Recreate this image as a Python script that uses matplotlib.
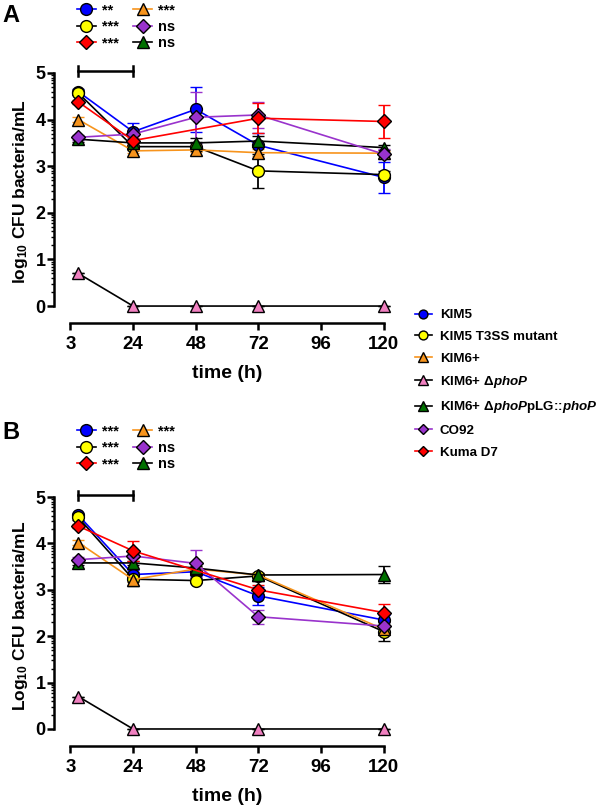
import matplotlib
matplotlib.use("Agg")
import matplotlib.pyplot as plt
import numpy as np

plt.rcParams['font.family'] = ['Liberation Sans', 'DejaVu Sans']
plt.rcParams['font.weight'] = 'bold'
plt.rcParams['axes.labelweight'] = 'bold'
plt.rcParams['mathtext.fontset'] = 'custom'
plt.rcParams['mathtext.rm'] = 'Liberation Sans:bold'
plt.rcParams['mathtext.it'] = 'Liberation Sans:italic:bold'
plt.rcParams['mathtext.bf'] = 'Liberation Sans:bold'

hours = [3, 24, 48, 72, 120]
tick_pos = [0, 24, 48, 72, 96, 120]
tick_labels = ["3", "24", "48", "72", "96", "120"]

strains = ["KIM5", "KIM5 T3SS mutant", "KIM6+", "KIM6+ Δ$\\it{phoP}$",
           "KIM6+ Δ$\\it{phoP}$pLG::$\\it{phoP}$", "CO92", "Kuma D7"]

nan = np.nan

# panel A: mean log10 CFU and error
a_kim5 = [4.60, 3.74, 4.22, 3.45, 2.76]
a_kim5_err = [0.05, 0.18, 0.48, 0.27, 0.33]
a_t3ss = [4.57, 3.42, 3.42, 2.90, 2.82]
a_t3ss_err = [0.05, 0.08, 0.10, 0.36, 0.08]
a_kim6 = [4.00, 3.33, 3.35, 3.29, 3.28]
a_kim6_err = [0.05, 0.05, 0.05, 0.08, 0.05]
a_phop = [0.70, 0.0, 0.0, 0.0, 0.0]
a_phop_err = [0.0, 0.0, 0.0, 0.0, 0.0]
a_comp = [3.58, 3.50, 3.50, 3.54, 3.40]
a_comp_err = [0.05, 0.05, 0.10, 0.10, 0.05]
a_co92 = [3.62, 3.69, 4.05, 4.10, 3.26]
a_co92_err = [0.05, 0.08, 0.55, 0.28, 0.10]
a_kuma = [4.38, 3.55, nan, 4.03, 3.96]
a_kuma_err = [0.05, 0.10, nan, 0.32, 0.35]
a_stats = ["**", "***", "***", "***", "ns", "ns"]

# panel B
b_kim5 = [4.61, 3.33, 3.39, 2.87, 2.35]
b_kim5_err = [0.05, 0.10, 0.10, 0.20, 0.10]
b_t3ss = [4.56, 3.23, 3.20, 3.30, 2.10]
b_t3ss_err = [0.05, 0.15, 0.05, 0.05, 0.20]
b_kim6 = [4.02, 3.22, 3.45, 3.32, 2.15]
b_kim6_err = [0.05, 0.05, 0.05, 0.05, 0.10]
b_phop = [0.70, 0.0, nan, 0.0, 0.0]
b_phop_err = [0.0, 0.0, nan, 0.0, 0.0]
b_comp = [3.58, 3.58, 3.47, 3.32, 3.33]
b_comp_err = [0.05, 0.05, 0.05, 0.05, 0.18]
b_co92 = [3.65, 3.73, 3.57, 2.42, 2.22]
b_co92_err = [0.05, 0.05, 0.29, 0.15, 0.10]
b_kuma = [4.375, 3.84, nan, 3.00, 2.51]
b_kuma_err = [0.05, 0.22, nan, 0.10, 0.18]
b_stats = ["***", "***", "***", "***", "ns", "ns"]

bracket_level = 5.04

# marker, face colour, line colour, marker size
styles = {
    "kim5": ("o", "#0000FF", "#0000FF", 8.5),
    "t3ss": ("o", "#FFFF00", "black", 8.5),
    "kim6": ("^", "#F7941D", "#F7941D", 9),
    "phop": ("^", "#F080C0", "black", 9),
    "comp": ("^", "#007000", "black", 9),
    "co92": ("D", "#9933CC", "#9933CC", 6.8),
    "kuma": ("D", "#FF0000", "#FF0000", 6.8),
}
order = ["kim5", "t3ss", "kim6", "phop", "comp", "co92", "kuma"]
draw_order = ["phop", "kim5", "t3ss", "kim6", "comp", "co92", "kuma"]


def draw_series(ax, key, means, errs):
    marker, face, line, ms = styles[key]
    t = np.array(hours, float)
    m = np.array(means, float)
    e = np.array(errs, float)
    ok = np.isfinite(m)
    cont = ax.errorbar(t[ok], m[ok], yerr=e[ok], marker=marker, ms=ms,
                       mfc=face, mec="black", mew=1.0, color=line, lw=1.2,
                       elinewidth=1.3, capsize=4.5, capthick=1.3)
    for art in cont.get_children():
        art.set_clip_on(False)
    return cont.lines[0]


def setup_axes(ax, ylabel):
    ax.set_xlim(-6.3, 123)
    ax.set_ylim(-0.1, 5.2)
    for s in ["top", "right"]:
        ax.spines[s].set_visible(False)
    ax.spines["left"].set_bounds(0, 5)
    ax.spines["bottom"].set_bounds(0, 120)
    ax.spines["bottom"].set_position(("outward", 9))
    for s in ["left", "bottom"]:
        ax.spines[s].set_linewidth(1.8)
    ax.set_xticks(tick_pos, tick_labels)
    ax.set_yticks(range(6))
    minor = [k + np.log10(m) for k in range(5) for m in range(2, 10)]
    ax.set_yticks(minor, minor=True)
    ax.tick_params(axis="both", which="major", length=5, width=1.8)
    ax.tick_params(axis="x", labelsize=13.5, pad=4)
    ax.tick_params(axis="y", labelsize=13, pad=1)
    ax.tick_params(axis="y", which="minor", length=2.5, width=1.0)
    for lbl in ax.get_xticklabels() + ax.get_yticklabels():
        lbl.set_fontweight("bold")
    ax.set_ylabel(ylabel, fontsize=12.5, fontweight="bold")
    ax.yaxis.set_label_coords(-0.072, 0.48)
    ax.set_xlabel("time (h)", fontsize=14, fontweight="bold")
    ax.xaxis.set_label_coords(0.513, -0.22)
    # bracket over the first two time points
    x0, x1 = hours[0], hours[1]
    ax.plot([x0, x1], [bracket_level, bracket_level], color="black", lw=1.8,
            clip_on=False)
    for xx in (x0, x1):
        ax.plot([xx, xx], [bracket_level - 0.1, bracket_level + 0.1],
                color="black", lw=1.8, clip_on=False)


fig = plt.figure(figsize=(6, 8.06), dpi=100)
ax_a = fig.add_axes([0.09, 0.6145, 0.5625, 0.3065])
ax_b = fig.add_axes([0.09, 0.0898, 0.5625, 0.305])

data_a = {"kim5": (a_kim5, a_kim5_err), "t3ss": (a_t3ss, a_t3ss_err),
          "kim6": (a_kim6, a_kim6_err), "phop": (a_phop, a_phop_err),
          "comp": (a_comp, a_comp_err), "co92": (a_co92, a_co92_err),
          "kuma": (a_kuma, a_kuma_err)}
data_b = {"kim5": (b_kim5, b_kim5_err), "t3ss": (b_t3ss, b_t3ss_err),
          "kim6": (b_kim6, b_kim6_err), "phop": (b_phop, b_phop_err),
          "comp": (b_comp, b_comp_err), "co92": (b_co92, b_co92_err),
          "kuma": (b_kuma, b_kuma_err)}

handles = {}
for ax, data, ylabel, stats, top in [
        (ax_a, data_a, "log$_{10}$ CFU bacteria/mL", a_stats, 1 - 3 / 806),
        (ax_b, data_b, "Log$_{10}$ CFU bacteria/mL", b_stats, 1 - 424 / 806)]:
    setup_axes(ax, ylabel)
    lines = {}
    for key in draw_order:
        lines[key] = draw_series(ax, key, *data[key])
    handles = lines
    stat_keys = ["kim5", "t3ss", "kuma", "kim6", "co92", "comp"]
    ax.legend([lines[k] for k in stat_keys], stats, ncol=2,
              loc="upper left", bbox_to_anchor=(77 / 600, top),
              bbox_transform=fig.transFigure, frameon=False,
              fontsize=10.5, handlelength=1.3, handletextpad=0.4,
              columnspacing=1.0, labelspacing=0.18, borderpad=0,
              borderaxespad=0)

fig.legend([handles[k] for k in order], strains, loc="upper left",
           bbox_to_anchor=(415 / 600, 1 - 309 / 806), frameon=False,
           fontsize=9.6, handlelength=1.25, handletextpad=0.62,
           labelspacing=0.7, borderpad=0, borderaxespad=0, markerscale=0.75)

fig.text(0.004, 1 - 4 / 806, "A", fontsize=17, va="top", ha="left")
fig.text(0.004, 1 - 421 / 806, "B", fontsize=17, va="top", ha="left")

fig.savefig("out.png", dpi=100)
